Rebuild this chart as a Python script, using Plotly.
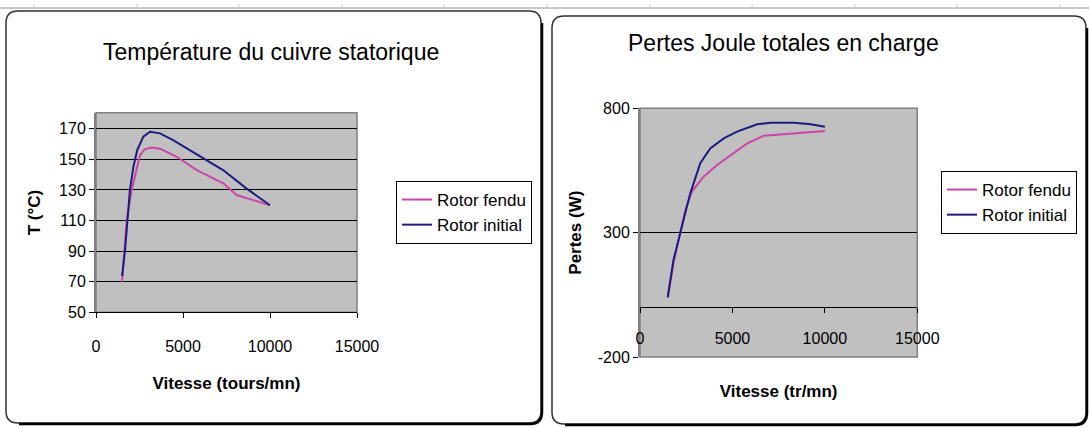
import plotly.graph_objects as go

W, H = 1089, 428

# ---------------- data ----------------
# Left chart: Température du cuivre statorique
speed_T_fendu = [1500, 1760, 2050, 2340, 2530, 2800, 3200, 3680, 4640, 5790, 7320, 8080, 8850, 10000]
temp_fendu = [70, 110, 130, 145, 152.8, 156.5, 157.8, 157, 151.7, 143, 134.3, 126.7, 124, 120]
speed_T_initial = [1500, 1670, 1950, 2150, 2370, 2720, 3100, 3680, 4430, 5400, 6350, 7300, 8640, 10000]
temp_initial = [73.7, 90.7, 130, 145.2, 156, 164.8, 168, 167, 162.6, 156, 150, 143, 131, 120]

# Right chart: Pertes Joule totales en charge
speed_P_fendu = [1500, 1810, 2170, 2450, 2810, 3440, 4170, 4890, 5800, 6700, 7610, 8520, 10000]
pertes_fendu = [40, 177, 297, 391, 465, 525, 572, 612, 659, 690, 695, 702, 709]
speed_P_initial = [1500, 1810, 2170, 2720, 3260, 3800, 4530, 5250, 6340, 7070, 8330, 9240, 10000]
pertes_initial = [40, 190, 297, 458, 579, 639, 679, 706, 736, 742, 742, 736, 726]

temp_ticks = [50, 70, 90, 110, 130, 150, 170]
speed_ticks = [0, 5000, 10000, 15000]
speed_labels = ["0", "5000", "10000", "15000"]
pertes_ticks = [-200, 300, 800]
pertes_labels = ["-200", "300", "800"]

series_names = ["Rotor fendu", "Rotor initial"]
PINK = "#CC44AA"
NAVY = "#1C1C80"

FONT = "Liberation Sans, Arial, sans-serif"


def X(px):
    return px / W


def Y(py):
    return 1 - py / H


fig = go.Figure()

fig.add_trace(go.Scatter(x=speed_T_fendu, y=temp_fendu, name=series_names[0], mode="lines",
                         line=dict(color=PINK, width=2), xaxis="x", yaxis="y", legend="legend"))
fig.add_trace(go.Scatter(x=speed_T_initial, y=temp_initial, name=series_names[1], mode="lines",
                         line=dict(color=NAVY, width=2), xaxis="x", yaxis="y", legend="legend"))
fig.add_trace(go.Scatter(x=speed_P_fendu, y=pertes_fendu, name=series_names[0], mode="lines",
                         line=dict(color=PINK, width=2), xaxis="x2", yaxis="y2", legend="legend2"))
fig.add_trace(go.Scatter(x=speed_P_initial, y=pertes_initial, name=series_names[1], mode="lines",
                         line=dict(color=NAVY, width=2), xaxis="x2", yaxis="y2", legend="legend2"))

tickfont = dict(family=FONT, size=16, color="black")
titlefont = dict(family=FONT, size=17, color="black", weight="bold")

# domains
y1_dom = [Y(312.3), Y(112.7)]
y2_dom = [Y(357), Y(108.3)]
x_pos2 = y2_dom[0] + (0 - (-200)) / 1000 * (y2_dom[1] - y2_dom[0])

fig.update_layout(
    template="none",
    width=W, height=H,
    margin=dict(l=0, r=0, t=0, b=0, autoexpand=False),
    paper_bgcolor="white",
    plot_bgcolor="#C0C0C0",
    showlegend=True,
    font=dict(family=FONT, color="black"),
    xaxis=dict(domain=[X(96), X(357)], range=[0, 15000], tickvals=speed_ticks, ticktext=speed_labels,
               ticks="outside", ticklen=5, tickcolor="black", showgrid=False, zeroline=False,
               showline=True, linecolor="black", linewidth=1, tickfont=tickfont,
               ticklabelstandoff=14, anchor="y", automargin=False,
               title=dict(text="Vitesse (tours/mn)", font=titlefont, standoff=23)),
    yaxis=dict(domain=y1_dom, range=[50, 180.5], tickvals=temp_ticks,
               ticks="outside", ticklen=5, tickcolor="black", showgrid=True, gridcolor="black",
               gridwidth=1, zeroline=False, showline=True, linecolor="#808080", linewidth=2,
               tickfont=tickfont, anchor="x", automargin=False,
               title=dict(text="T (°C)", font=titlefont, standoff=14)),
    xaxis2=dict(domain=[X(640), X(917.3)], range=[0, 15000], tickvals=speed_ticks, ticktext=speed_labels,
                ticks="outside", ticklen=5, tickcolor="black", showgrid=False, zeroline=False,
                showline=True, linecolor="black", linewidth=1, tickfont=tickfont,
                ticklabelstandoff=12, anchor="free", position=x_pos2, automargin=False,
                title=dict(text="Vitesse (tr/mn)", font=titlefont, standoff=38)),
    yaxis2=dict(domain=y2_dom, range=[-200, 800], tickvals=pertes_ticks, ticktext=pertes_labels,
                ticks="outside", ticklen=5, tickcolor="black", showgrid=True, gridcolor="black",
                gridwidth=1, zeroline=False, showline=True, linecolor="#808080", linewidth=2,
                tickfont=tickfont, anchor="x2", automargin=False,
                title=dict(text="Pertes (W)", font=titlefont, standoff=12)),
    legend=dict(x=X(396), y=Y(181), xanchor="left", yanchor="top",
                bgcolor="white", bordercolor="black", borderwidth=1,
                font=dict(family=FONT, size=17, color="black"), itemwidth=30,
                tracegroupgap=0),
    legend2=dict(x=X(941), y=Y(171), xanchor="left", yanchor="top",
                 bgcolor="white", bordercolor="black", borderwidth=1,
                 font=dict(family=FONT, size=17, color="black"), itemwidth=30,
                 tracegroupgap=0),
)

# chart titles
fig.add_annotation(text="Température du cuivre statorique", x=X(270.5), y=Y(52), xref="paper", yref="paper",
                   showarrow=False, font=dict(family=FONT, size=23, color="black"),
                   xanchor="center", yanchor="middle")
fig.add_annotation(text="Pertes Joule totales en charge", x=X(783.5), y=Y(43), xref="paper", yref="paper",
                   showarrow=False, font=dict(family=FONT, size=23, color="black"),
                   xanchor="center", yanchor="middle")


def rounded(x0, y0, x1, y1, r):
    return (f"M {X(x0 + r)},{Y(y0)} L {X(x1 - r)},{Y(y0)} Q {X(x1)},{Y(y0)} {X(x1)},{Y(y0 + r)} "
            f"L {X(x1)},{Y(y1 - r)} Q {X(x1)},{Y(y1)} {X(x1 - r)},{Y(y1)} "
            f"L {X(x0 + r)},{Y(y1)} Q {X(x0)},{Y(y1)} {X(x0)},{Y(y1 - r)} "
            f"L {X(x0)},{Y(y0 + r)} Q {X(x0)},{Y(y0)} {X(x0 + r)},{Y(y0)} Z")


def shadow(x0, y0, x1, y1, r):
    return (f"M {X(x1)},{Y(y0 + r)} L {X(x1)},{Y(y1 - r)} Q {X(x1)},{Y(y1)} {X(x1 - r)},{Y(y1)} "
            f"L {X(x0 + r)},{Y(y1)}")


shapes = []
# spreadsheet grid line at top
shapes.append(dict(type="line", xref="paper", yref="paper", x0=0, x1=1, y0=Y(8), y1=Y(8),
                   line=dict(color="#909090", width=1)))
for gx in [34, 137, 239, 342, 444, 547, 650, 752, 855, 957, 1060]:
    shapes.append(dict(type="line", xref="paper", yref="paper", x0=X(gx), x1=X(gx), y0=Y(4), y1=Y(8),
                       line=dict(color="#C8C8C8", width=1)))
# chart boxes
for (bx0, by0, bx1, by1) in [(6, 11, 541, 423), (552, 16, 1086, 424)]:
    shapes.append(dict(type="path", xref="paper", yref="paper", path=rounded(bx0, by0, bx1, by1, 12),
                       line=dict(color="#303030", width=1.5), layer="below"))
    shapes.append(dict(type="path", xref="paper", yref="paper", path=shadow(bx0 + 1, by0, bx1 + 1, by1 + 1, 12),
                       line=dict(color="black", width=2.5), layer="below"))
# plot area borders
shapes.append(dict(type="rect", xref="x domain", yref="y domain", x0=0, x1=1, y0=0, y1=1,
                   line=dict(color="#808080", width=1.5), layer="below"))
shapes.append(dict(type="rect", xref="x2 domain", yref="y2 domain", x0=0, x1=1, y0=0, y1=1,
                   line=dict(color="#808080", width=1.5), layer="below"))
fig.update_layout(shapes=shapes)

fig.write_html("out.html", config={"displayModeBar": False},
               post_script="document.body.style.margin='0px';")
